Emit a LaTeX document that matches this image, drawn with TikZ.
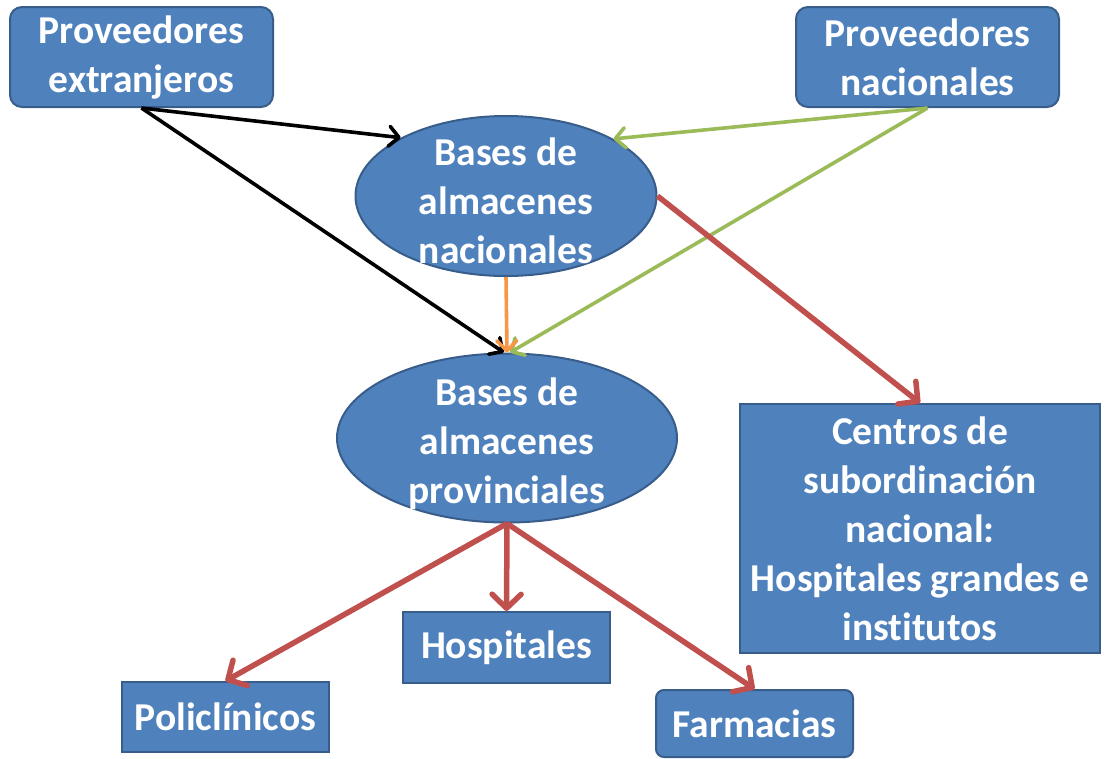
\documentclass[tikz,border=0pt]{standalone}
\usepackage{fontspec}
\setmainfont[Ligatures=NoCommon]{Carlito}
\usetikzlibrary{arrows.meta,shapes.geometric}
\definecolor{boxfill}{HTML}{4F81BD}
\definecolor{boxline}{HTML}{385D8A}
\definecolor{agreen}{HTML}{9BBB59}
\definecolor{ared}{HTML}{C0504D}
\definecolor{aorange}{HTML}{F79646}
\tikzset{
  base/.style={fill=boxfill, draw=boxline, line width=2pt, text=white,
    font=\bfseries\fontsize{39.5}{49}\selectfont, align=center, inner sep=0pt},
  rbox/.style={base, rectangle, rounded corners=12pt},
  sbox/.style={base, rectangle},
  ell/.style={base, ellipse},
  txt/.style={text=white, font=\bfseries\fontsize{39.5}{49}\selectfont, align=center, inner sep=0pt},
  arr/.style={-{Straight Barb[length=10pt,width=20pt,line width=3.6pt,round]}, line width=3.6pt},
  blk/.style={arr, draw=black},
  grn/.style={arr, draw=agreen},
  org/.style={arr, draw=aorange},
  redarr/.style={-{Straight Barb[length=14pt,width=29pt,line width=5.5pt,round]}, line width=5.5pt, draw=ared},
}
\begin{document}
\begin{tikzpicture}[x=1pt,y=-1pt]
\useasboundingbox (0,0) rectangle (1105,758);
\node[rbox, minimum width=263pt, minimum height=100pt] (pe) at (141.5,57) {Proveedores\\extranjeros};
\node[rbox, minimum width=263pt, minimum height=100pt] (pn) at (927.5,57) {Proveedores\\nacionales};
\node[ell, minimum width=301pt, minimum height=160pt] (bn) at (506,196) {};
\node[txt] (bnt) at (506,201) {Bases de\\almacenes\\nacionales};
\node[ell, minimum width=340pt, minimum height=169pt] (bp) at (507,438) {};
\node[txt] (bpt) at (507,444) {Bases de\\almacenes\\provinciales};
\node[sbox, minimum width=360pt, minimum height=249pt] (cn) at (920,528.5) {Centros de\\subordinación\\nacional:\\Hospitales grandes e\\institutos};
\node[sbox, minimum width=207pt, minimum height=71pt] (ho) at (506.5,647.5) {Hospitales};
\node[sbox, minimum width=207pt, minimum height=70pt] (po) at (225.5,717) {Policlínicos};
\node[rbox, rounded corners=8pt, minimum width=197pt, minimum height=67pt] (fa) at (754.5,723.5) {Farmacias};
\draw[blk] (pe.south) -- (bn.151);
\draw[blk] (pe.south) -- (bp.92);
\draw[grn] (pn.south) -- (bn.28);
\draw[grn] (pn.south) -- (bp.88);
\draw[org] (bn.south) -- (bp.north);
\draw[redarr] (bn.east) -- (cn.north);
\draw[redarr] (bp.south) -- (po.north);
\draw[redarr] (bp.south) -- (ho.north);
\draw[redarr] (bp.south) -- (fa.north);
\end{tikzpicture}
\end{document}
